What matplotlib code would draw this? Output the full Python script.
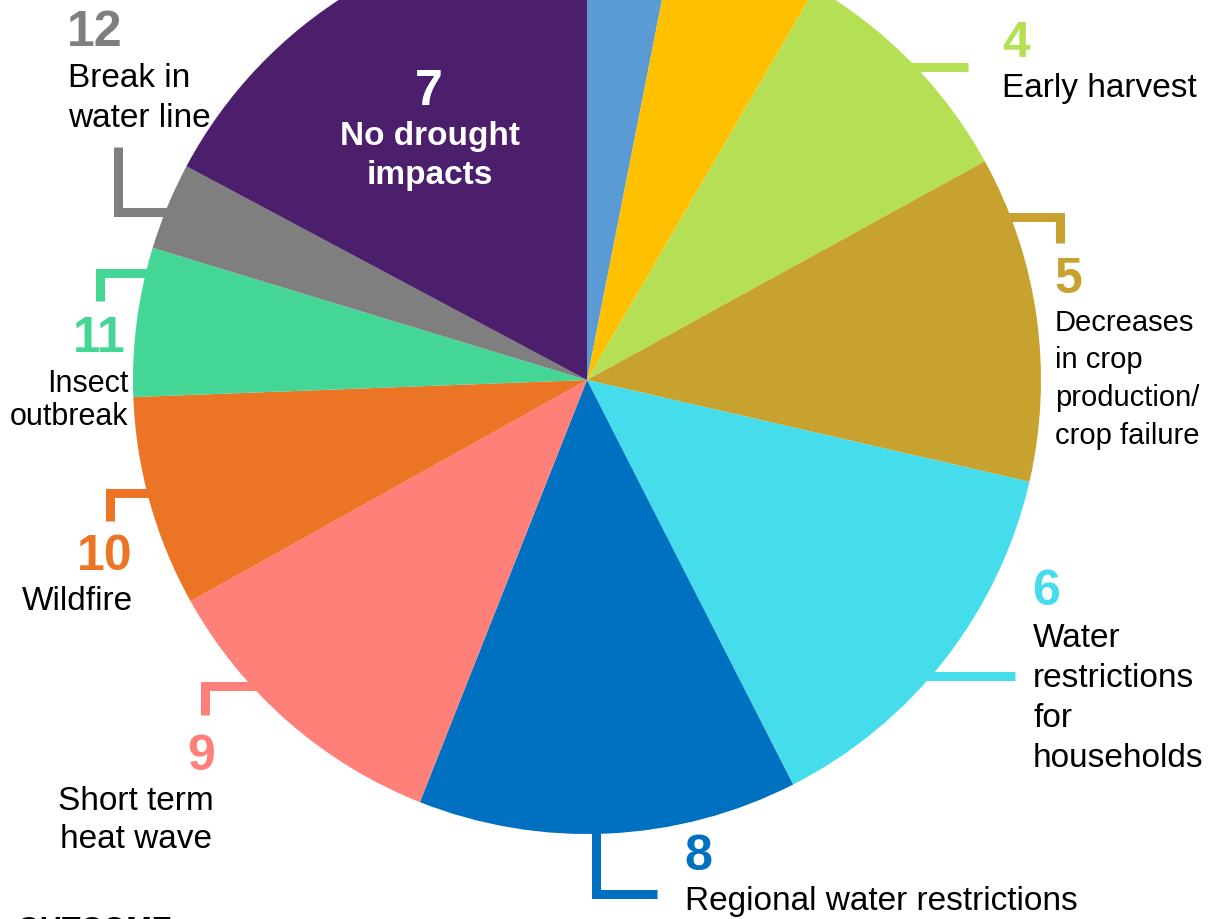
import matplotlib
matplotlib.use("Agg")
import matplotlib.pyplot as plt

# ---- data (shares in percent) ----
slice_ids = ["1", "3", "4", "5", "6", "8", "9", "10", "11", "12", "7"]
slice_values = [3.1, 5.3, 8.6, 11.6, 13.9, 13.5, 10.9, 7.5, 5.3, 3.1, 17.2]
slice_colors = ["#5B9BD5", "#FFC000", "#B5E055", "#C7A22F", "#45DDEC",
                "#0070C0", "#FF7F79", "#EB7524", "#44D695", "#7F7F7F", "#4B1F6B"]
label_texts = {
    "4": ["Early harvest"],
    "5": ["Decreases", "in crop", "production/", "crop failure"],
    "6": ["Water", "restrictions", "for", "households"],
    "8": ["Regional water restrictions"],
    "9": ["Short term", "heat wave"],
    "10": ["Wildfire"],
    "11": ["Insect", "outbreak"],
    "12": ["Break in", "water line"],
    "7": ["No drought", "impacts"],
}
footer_text = "OUTCOME"

W, H = 1222, 919
plt.rcParams["font.family"] = ["Liberation Sans", "DejaVu Sans"]

fig = plt.figure(figsize=(W / 100, H / 100), dpi=100)
ax = fig.add_axes([0, 0, 1, 1])


def Y(py):
    return H - py


cx, cy, R = 587, 380, 454
ax.pie(slice_values, colors=slice_colors, startangle=90, counterclock=False,
       center=(cx, Y(cy)), radius=R, wedgeprops=dict(linewidth=0))
ax.set_xlim(0, W)
ax.set_ylim(0, H)
ax.set_aspect("equal")
ax.axis("off")

col = dict(zip(slice_ids, slice_colors))
LW = 6.5


def leader(pts, c):
    xs = [p[0] for p in pts]
    ys = [Y(p[1]) for p in pts]
    ax.plot(xs, ys, color=c, lw=LW, solid_capstyle="butt",
            solid_joinstyle="miter", zorder=3)


# leader lines
leader([(905, 67), (968, 67)], col["4"])
leader([(1000, 217), (1060, 217), (1060, 243)], col["5"])
leader([(925, 676), (1015, 676)], col["6"])
leader([(596, 828), (596, 894), (657, 894)], col["8"])
leader([(258, 686), (205, 686), (205, 715)], col["9"])
leader([(152, 493), (110, 493), (110, 521)], col["10"])
leader([(152, 273), (100, 273), (100, 301)], col["11"])
leader([(118, 147), (118, 212), (170, 212)], col["12"])

NUM = 36


def num(txt, x, yb, ha, c):
    ax.text(x, Y(yb), txt, fontsize=NUM, fontweight="bold", color=c,
            ha=ha, va="baseline", zorder=4)


def lines(key, x, yb0, step, ha, size, c="black", weight="normal"):
    for i, s in enumerate(label_texts[key]):
        ax.text(x, Y(yb0 + i * step), s, fontsize=size, color=c, ha=ha,
                va="baseline", fontweight=weight, zorder=4)


num("4", 1002, 57, "left", col["4"])
lines("4", 1002, 97, 40, "left", 24)

num("5", 1054, 293, "left", col["5"])
lines("5", 1055, 331, 37.5, "left", 21)

num("6", 1032, 605, "left", col["6"])
lines("6", 1033, 647, 40, "left", 24)

num("8", 684, 870, "left", col["8"])
lines("8", 685, 910, 40, "left", 24)

num("9", 201, 770, "center", col["9"])
lines("9", 136, 810, 38, "center", 24)

num("10", 105, 570, "center", col["10"])
lines("10", 77, 610, 40, "center", 24)

num("11", 99, 352, "center", col["11"])
lines("11", 128, 392, 33, "right", 22)

num("12", 67, 46, "left", col["12"])
lines("12", 68, 87, 40, "left", 24)

num("7", 429, 105, "center", "white")
lines("7", 430, 145, 39, "center", 24, c="white", weight="bold")

ax.text(17, Y(939), footer_text, fontsize=22, fontweight="bold", color="black",
        ha="left", va="baseline")

fig.savefig("out.png", dpi=100)
